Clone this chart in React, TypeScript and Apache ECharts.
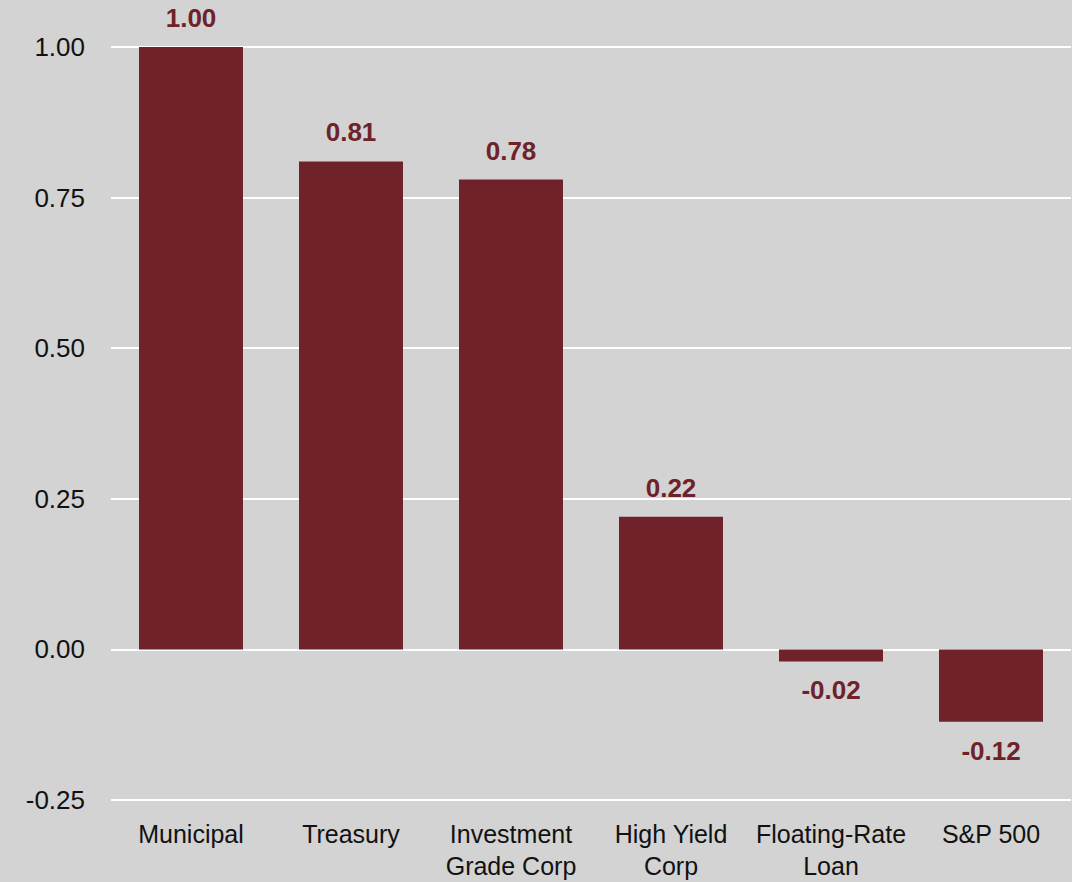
import React, { useEffect, useRef } from "react";
import * as echarts from "echarts";

const categories = ["Municipal", "Treasury", "Investment\nGrade Corp", "High Yield\nCorp", "Floating-Rate\nLoan", "S&P 500"];
const values = [1.0, 0.81, 0.78, 0.22, -0.02, -0.12];
const yTicks = { min: -0.25, max: 1.0, interval: 0.25 };

const BG = "#d2d3d2";
const BAR = "#6f2229";

export default function App() {
  const ref = useRef<HTMLDivElement>(null);
  useEffect(() => {
    document.body.style.margin = "0";
    document.body.style.background = BG;
    const chart = echarts.init(ref.current!, undefined, { renderer: "svg" });
    chart.setOption({
      animation: false,
      backgroundColor: BG,
      grid: { left: 111, right: 1, top: 47, bottom: 81, containLabel: false },
      xAxis: {
        type: "category",
        data: categories,
        axisLine: { show: false },
        axisTick: { show: false },
        axisLabel: {
          color: "#111",
          fontFamily: "Liberation Sans",
          fontSize: 25,
          lineHeight: 32,
          margin: 18,
          interval: 0,
        },
      },
      yAxis: {
        type: "value",
        min: yTicks.min,
        max: yTicks.max,
        interval: yTicks.interval,
        axisLine: { show: false },
        axisTick: { show: false },
        splitLine: { lineStyle: { color: "#ffffff", width: 2 } },
        axisLabel: {
          color: "#111",
          fontFamily: "Liberation Sans",
          fontSize: 26,
          margin: 26,
          formatter: (v: number) => v.toFixed(2),
        },
      },
      series: [
        {
          type: "bar",
          barWidth: 104,
          data: values.map((v) => ({
            value: v,
            label: {
              show: true,
              position: v >= 0 ? "top" : "bottom",
              distance: v >= 0 ? 16 : 16,
              color: BAR,
              fontWeight: "bold",
              fontFamily: "Liberation Sans",
              fontSize: 26,
              formatter: (p: any) => p.value.toFixed(2),
            },
          })),
          itemStyle: { color: BAR },
        },
      ],
    });
    return () => chart.dispose();
  }, []);
  return <div ref={ref} style={{ width: 1072, height: 882 }} />;
}
